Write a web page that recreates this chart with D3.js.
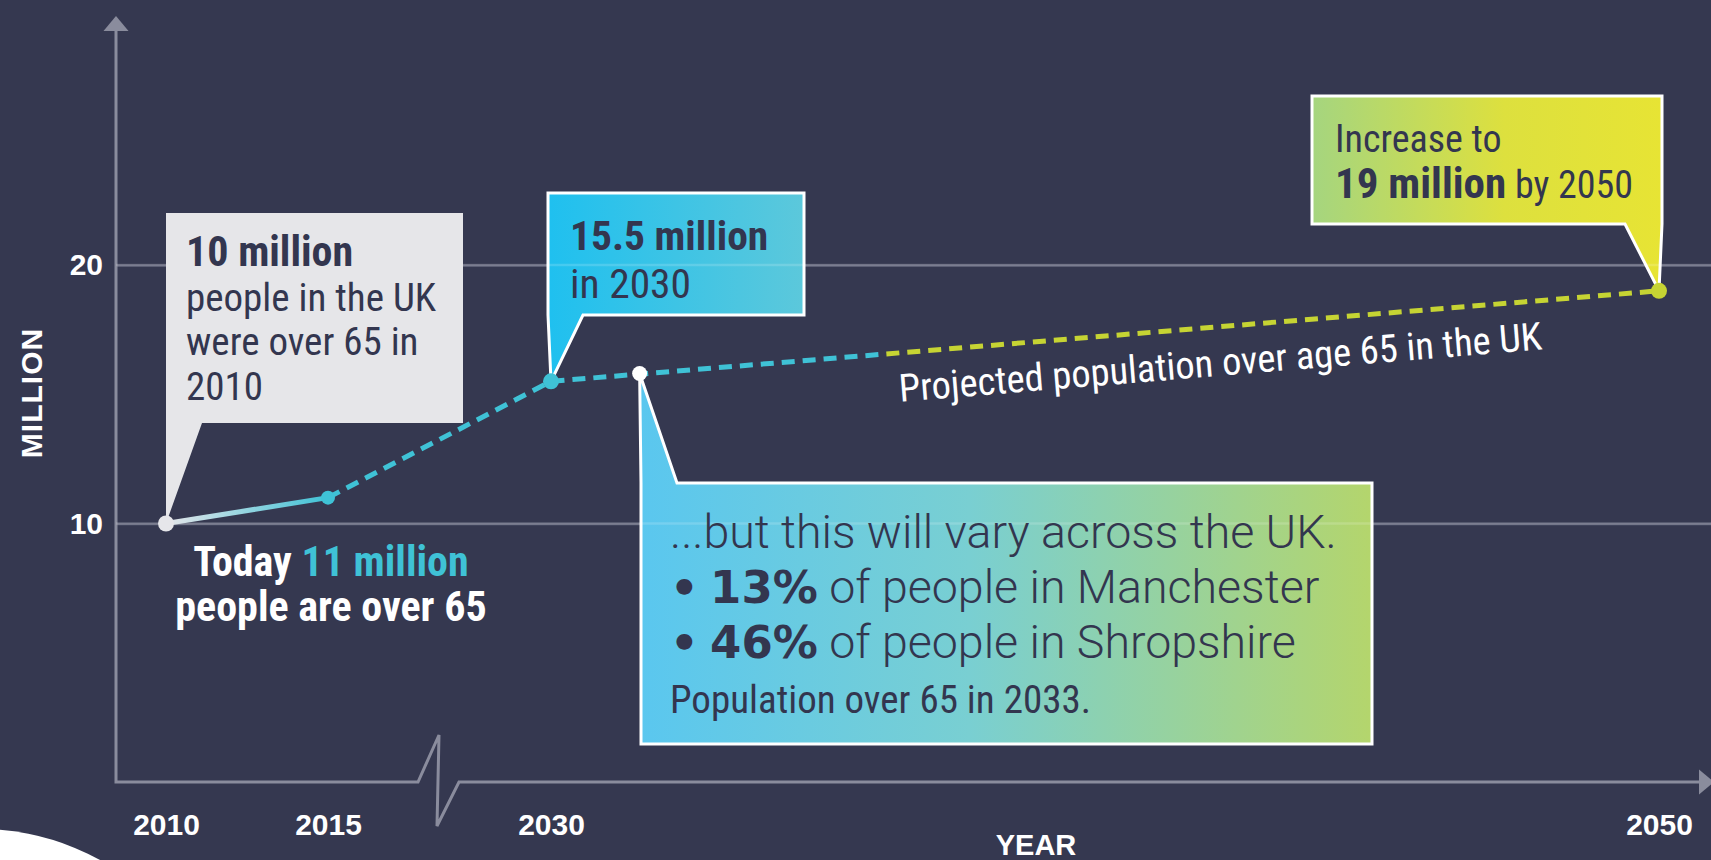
<!DOCTYPE html>
<html>
<head>
<meta charset="utf-8">
<script src="https://cdn.jsdelivr.net/npm/d3@7"></script>
<style>
html, body { margin: 0; padding: 0; background: #353850; overflow: hidden; }
svg { display: block; }
.bold { font-family: "Liberation Sans", Arial, sans-serif; font-weight: bold; }
</style>
</head>
<body>
<svg id="chart" width="1711" height="860"></svg>
<script>
// --- data ---
const years = [2010, 2015, 2030, 2050];
const population = [10, 11, 15.5, 19];          // million people over 65 in the UK
const tickYears = [2010, 2015, 2030, 2050];
const gridValues = [10, 20];
const lastMeasuredYear = 2015;                   // solid up to here, dashed projection after
const colourSwitchYear = 2036;                   // dashed line turns from cyan to yellow
const regionMarker = [2031.6, 15.8];             // point the "vary across the UK" box hangs from

const box10Text = [[["10 million", "b"]], [["people in the UK"]], [["were over 65 in"]], [["2010"]]];
const box155Text = [[["15.5 million", "b"]], [["in 2030"]]];
const box19Text = [[["Increase to"]], [["19 million", "b"], [" by 2050"]]];
const varyText = [
  [["...but this will vary across the UK.", "l"]],
  [["•", "x"], [" ", "l"], ["13%", "x"], [" of people in Manchester", "l"]],
  [["•", "x"], [" ", "l"], ["46%", "x"], [" of people in Shropshire", "l"]],
  [["Population over 65 in 2033.", "s"]]
];
const todayText = [[["Today ", "w"], ["11 million", "c"]], [["people are over 65", "w"]]];
const lineLabel = "Projected population over age 65 in the UK";

// --- setup ---
const width = 1711, height = 860;
const bg = "#353850", ink = "#33364f";
const cyan = "#3fc2d6", yellow = "#c6d433";
const condFont = '"Liberation Sans Narrow", "Arial Narrow", "Roboto Condensed", sans-serif';

const svg = d3.select("#chart");
const defs = svg.append("defs");

const x = d3.scaleLinear()
  .domain([2010, 2015, 2030, 2050])
  .range([166, 328, 551, 1659]);   // axis is broken between 2015 and 2030
const y = d3.scaleLinear().domain([0, 20]).range([782, 265]);

const axisX = 116, axisY = y(0);

svg.append("rect").attr("width", width).attr("height", height).attr("fill", bg);

// white blob of the next panel, bottom left corner
svg.append("circle").attr("cx", -20).attr("cy", 1077).attr("r", 248).attr("fill", "#ffffff");

// gridlines + y labels
const gy = svg.append("g")
  .attr("transform", `translate(${axisX},0)`)
  .call(d3.axisLeft(y).tickValues(gridValues).tickSize(-(width - axisX)).tickPadding(13));
gy.select(".domain").remove();
gy.selectAll("line").attr("stroke", "#62657b").attr("stroke-width", 2.5);
gy.selectAll("text")
  .attr("class", "bold")
  .attr("fill", "#ffffff")
  .style("font-size", "30px");

// x labels
const gx = svg.append("g")
  .attr("transform", `translate(0,${axisY})`)
  .call(d3.axisBottom(x).tickValues(tickYears).tickFormat(d3.format("d")).tickSize(0).tickPadding(32));
gx.select(".domain").remove();
gx.selectAll("text")
  .attr("class", "bold")
  .attr("fill", "#ffffff")
  .style("font-size", "30px");

// axes with arrows and the break
const axisColor = "#8a8c9d";
svg.append("path")
  .attr("d", `M${axisX},30 V${axisY} H418 L439,735 L437,826 L459,${axisY} H1702`)
  .attr("fill", "none").attr("stroke", axisColor).attr("stroke-width", 3)
  .attr("stroke-linejoin", "miter");
svg.append("path").attr("d", `M${axisX},16 L${axisX + 12.5},31 L${axisX - 12.5},31 Z`).attr("fill", axisColor);
svg.append("path").attr("d", `M1714,${axisY} L1699,${axisY - 12.5} L1699,${axisY + 12.5} Z`).attr("fill", axisColor);

// axis titles
svg.append("text").attr("class", "bold")
  .attr("transform", "translate(42,393) rotate(-90)")
  .attr("text-anchor", "middle").attr("fill", "#ffffff")
  .style("font-size", "30px").style("letter-spacing", "1px")
  .text("MILLION");
svg.append("text").attr("class", "bold")
  .attr("x", 1036).attr("y", 855)
  .attr("text-anchor", "middle").attr("fill", "#ffffff")
  .style("font-size", "29px")
  .text("YEAR");

// --- gradients ---
function hGradient(id, stops, attrs) {
  const g = defs.append("linearGradient").attr("id", id);
  Object.entries(attrs || {x1: "0%", x2: "100%", y1: "0%", y2: "0%"}).forEach(([k, v]) => g.attr(k, v));
  stops.forEach(s => g.append("stop").attr("offset", s[0]).attr("stop-color", s[1]));
}
hGradient("g155", [[0, "#1fc0ef"], [1, "#5cc8db"]]);
hGradient("g19", [[0, "#a5d57f"], [0.55, "#dde03e"], [1, "#e7e434"]]);
hGradient("gVary", [[0, "#5ac7ef"], [0.45, "#79cfd2"], [1, "#b4d56c"]]);
hGradient("gSolid", [[0, "#e6e6ea"], [1, cyan]],
  {gradientUnits: "userSpaceOnUse", x1: x(2010), x2: x(lastMeasuredYear), y1: 0, y2: 0});
const switchAt = (x(colourSwitchYear) - x(lastMeasuredYear)) / (x(2050) - x(lastMeasuredYear));
hGradient("gDash", [[0, cyan], [switchAt, cyan], [switchAt, yellow], [1, yellow]],
  {gradientUnits: "userSpaceOnUse", x1: x(lastMeasuredYear), x2: x(2050), y1: 0, y2: 0});

// --- the line ---
const pts = years.map((yr, i) => [yr, population[i]]);
const line = d3.line().x(d => x(d[0])).y(d => y(d[1]));

// --- callout boxes (drawn before the line so the dots sit on top) ---
function callout(rect, pointer, fill, stroke) {
  const [x0, y0, x1, y1] = rect;
  const [side, p0, p1, tip] = pointer;
  let p;
  if (side === "bottom") {
    p = [[x0, y0], [x1, y0], [x1, y1], [p1, y1], tip, [p0, y1], [x0, y1]];
  } else {
    p = [[x0, y0], tip, [p1, y0], [x1, y0], [x1, y1], [x0, y1], [x0, y0]];
  }
  svg.append("path")
    .attr("d", "M" + p.map(d => d.join(",")).join("L") + "Z")
    .attr("fill", fill)
    .attr("stroke", stroke || "none")
    .attr("stroke-width", 3)
    .attr("stroke-linejoin", "miter");
}

// sizes: px per style key for this box
function writeLines(lines, x0, y0, lh, sizes, anchor) {
  const styles = {
    n: {font: condFont, weight: "normal", fill: ink},
    b: {font: condFont, weight: "bold", fill: ink},
    l: {font: "Roboto, sans-serif", weight: 300, fill: ink},
    x: {font: '"DejaVu Sans", Verdana, sans-serif', weight: "bold", fill: ink},
    s: {font: condFont, weight: "normal", fill: ink},
    w: {font: condFont, weight: "bold", fill: "#ffffff"},
    c: {font: condFont, weight: "bold", fill: cyan}
  };
  lines.forEach((segs, i) => {
    const t = svg.append("text")
      .attr("x", x0).attr("y", y0 + i * lh)
      .attr("text-anchor", anchor || "start");
    segs.forEach(([str, k]) => {
      k = k || "n";
      const st = styles[k];
      t.append("tspan")
        .style("font-family", st.font)
        .style("font-weight", st.weight)
        .style("font-size", (sizes[k] || sizes.n) + "px")
        .attr("fill", st.fill)
        .text(str);
    });
  });
}

const p2010 = [x(2010), y(10)], p2030 = [x(2030), y(15.5)], p2050 = [x(2050), y(19)];
const pMark = [x(regionMarker[0]), y(regionMarker[1])];

callout([548, 193, 804, 315], ["bottom", 548, 583, p2030], "url(#g155)", "#ffffff");
callout([1312, 96, 1662, 224], ["bottom", 1625, 1662, p2050], "url(#g19)", "#ffffff");
callout([641, 483, 1372, 744], ["top", 641, 677, pMark], "url(#gVary)", "#ffffff");

// gridlines faintly show through the coloured boxes
svg.selectAll(".gridGhost").data(gridValues).join("line")
  .attr("class", "gridGhost")
  .attr("x1", axisX).attr("x2", width)
  .attr("y1", d => y(d)).attr("y2", d => y(d))
  .attr("stroke", "#ffffff").attr("stroke-opacity", 0.16).attr("stroke-width", 2.5);

callout([166, 213, 463, 423], ["bottom", 166, 202, p2010], "#e6e6e9");

svg.append("path")
  .datum(pts.filter(d => d[0] <= lastMeasuredYear))
  .attr("d", line)
  .attr("fill", "none").attr("stroke", "url(#gSolid)").attr("stroke-width", 5);
svg.append("path")
  .datum(pts.filter(d => d[0] >= lastMeasuredYear))
  .attr("d", line)
  .attr("fill", "none").attr("stroke", "url(#gDash)").attr("stroke-width", 5)
  .attr("stroke-dasharray", "13 8");

// dots
const dotColors = ["#e6e6ea", cyan, cyan, yellow];
svg.selectAll(".dot").data(pts).join("circle")
  .attr("class", "dot")
  .attr("cx", d => x(d[0])).attr("cy", d => y(d[1]))
  .attr("r", (d, i) => i === 1 ? 7 : 8)
  .attr("fill", (d, i) => dotColors[i]);
svg.append("circle").attr("cx", pMark[0]).attr("cy", pMark[1]).attr("r", 7.5).attr("fill", "#ffffff");

// texts
writeLines(box10Text, 186, 266, 44.7, {n: 39, b: 42});
writeLines(box155Text, 570, 250, 48, {n: 41.5, b: 41.5});
writeLines(box19Text, 1335, 152, 46, {n: 38, b: 43});
writeLines(varyText, 670, 548, 55, {l: 46.5, x: 45, s: 39});
writeLines(todayText, 331, 576, 45, {w: 42, c: 42}, "middle");

// label along the projected line
const angle = Math.atan2(p2050[1] - p2030[1], p2050[0] - p2030[0]) * 180 / Math.PI;
const lx = 900, ly = p2030[1] + (lx - p2030[0]) * (p2050[1] - p2030[1]) / (p2050[0] - p2030[0]) + 49;
svg.append("text")
  .attr("transform", `translate(${lx},${ly}) rotate(${angle})`)
  .attr("fill", "#ffffff")
  .style("font-family", condFont)
  .style("font-size", "38.5px")
  .text(lineLabel);
</script>
</body>
</html>
